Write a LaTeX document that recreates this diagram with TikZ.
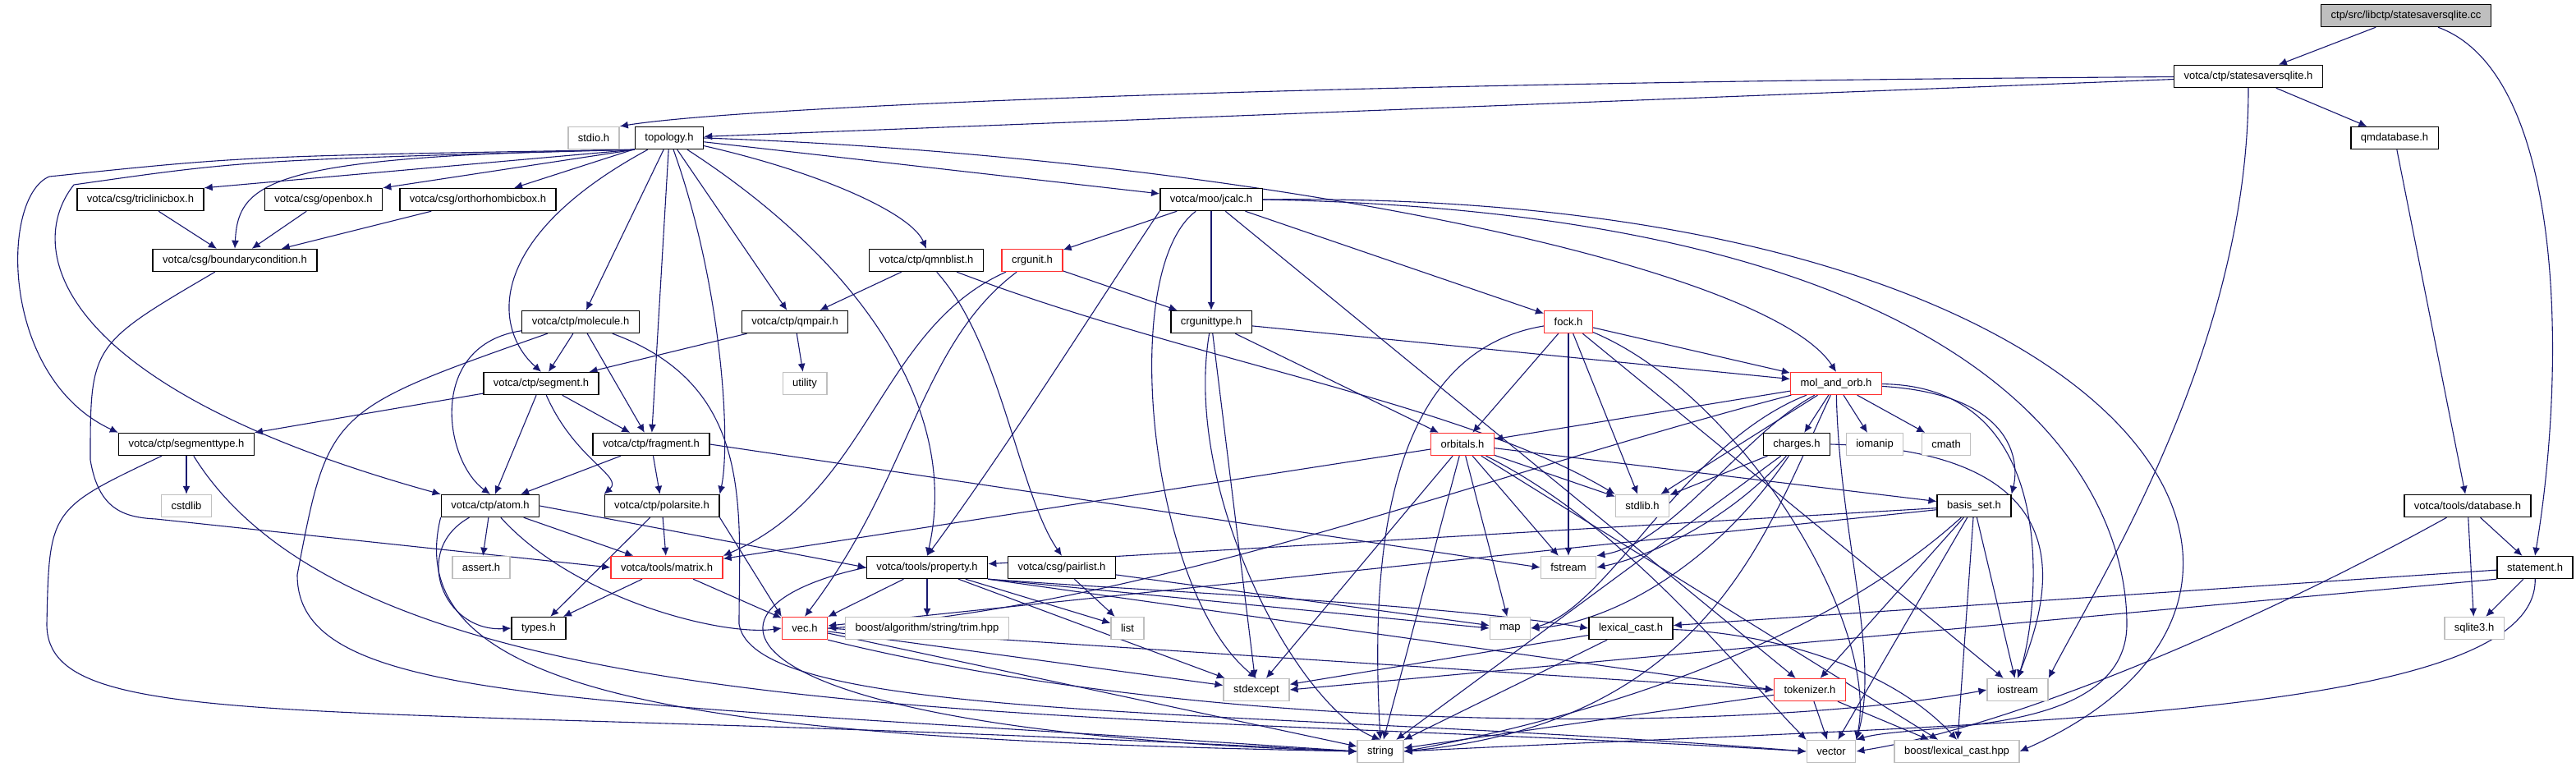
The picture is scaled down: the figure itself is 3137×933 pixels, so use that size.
\documentclass[tikz,border=0pt]{standalone}
\usepackage{fontspec}
\setsansfont{Liberation Sans}
\usetikzlibrary{arrows.meta,backgrounds}
\definecolor{edgeblue}{HTML}{191970}
\definecolor{sysgray}{HTML}{BFBFBF}
\definecolor{truncred}{HTML}{FF3030}
\definecolor{rootgray}{HTML}{BFBFBF}
\tikzset{
  font=\sffamily\fontsize{6.5}{7.5}\selectfont,
  dep/.style={
    -{Latex[length=5pt,width=4.5pt]},
    draw=edgeblue,
    line width=0.55pt
  },
  file/.style={
    rectangle,
    draw=black,
    line width=0.7pt,
    fill=white,
    minimum height=13.5pt,
    inner xsep=6pt,
    inner ysep=0pt
  },
  sys_file/.style={file, draw=sysgray},
  trunc_file/.style={file, draw=truncred},
  root_file/.style={file, fill=rootgray}
}
\begin{document}
\begin{tikzpicture}[x=0.5pt, y=-0.5pt]
  \useasboundingbox (0,0) rectangle (3137,933);

  \node[root_file] (cc) at (2930,19) {ctp/src/libctp/statesaversqlite.cc};
  \node[file] (ssh) at (2738,93) {votca/ctp/statesaversqlite.h};
  \node[sys_file] (stdio) at (723,168) {stdio.h};
  \node[file] (topo) at (815,168) {topology.h};
  \node[file] (qmdb) at (2916,168) {qmdatabase.h};
  \node[file] (tric) at (171,243) {votca/csg/triclinicbox.h};
  \node[file] (openb) at (394,243) {votca/csg/openbox.h};
  \node[file] (ortho) at (582,243) {votca/csg/orthorhombicbox.h};
  \node[file] (jcalc) at (1475,243) {votca/moo/jcalc.h};
  \node[file] (bcond) at (286,317) {votca/csg/boundarycondition.h};
  \node[file] (qmnb) at (1128,317) {votca/ctp/qmnblist.h};
  \node[trunc_file] (crgu) at (1257,317) {crgunit.h};
  \node[file] (mol) at (707,392) {votca/ctp/molecule.h};
  \node[file] (qmpair) at (968,392) {votca/ctp/qmpair.h};
  \node[file] (crgt) at (1475,392) {crgunittype.h};
  \node[trunc_file] (fock) at (1910,392) {fock.h};
  \node[file] (seg) at (659,467) {votca/ctp/segment.h};
  \node[sys_file] (util) at (980,467) {utility};
  \node[trunc_file] (mao) at (2236,467) {mol\_and\_orb.h};
  \node[file] (segt) at (227,541) {votca/ctp/segmenttype.h};
  \node[file] (frag) at (793,541) {votca/ctp/fragment.h};
  \node[trunc_file] (orb) at (1781,541) {orbitals.h};
  \node[file] (chg) at (2188,541) {charges.h};
  \node[sys_file] (ioman) at (2283,541) {iomanip};
  \node[sys_file] (cmath) at (2370,541) {cmath};
  \node[sys_file] (cstdlib) at (227,616) {cstdlib};
  \node[file] (atom) at (597,616) {votca/ctp/atom.h};
  \node[file] (polar) at (806,616) {votca/ctp/polarsite.h};
  \node[sys_file] (stdlib) at (2000,616) {stdlib.h};
  \node[file] (basis) at (2404,616) {basis\_set.h};
  \node[file] (db) at (3005,616) {votca/tools/database.h};
  \node[sys_file] (assert) at (586,691) {assert.h};
  \node[trunc_file] (matrix) at (812,691) {votca/tools/matrix.h};
  \node[file] (prop) at (1129,691) {votca/tools/property.h};
  \node[file] (pair) at (1293,691) {votca/csg/pairlist.h};
  \node[sys_file] (fstream) at (1910,691) {fstream};
  \node[file] (stmt) at (3087,691) {statement.h};
  \node[file] (types) at (656,765) {types.h};
  \node[trunc_file] (vec) at (980,765) {vec.h};
  \node[sys_file] (trim) at (1129,765) {boost/algorithm/string/trim.hpp};
  \node[sys_file] (list) at (1373,765) {list};
  \node[sys_file] (map) at (1839,765) {map};
  \node[file] (lexc) at (1986,765) {lexical\_cast.h};
  \node[sys_file] (sqlite) at (3013,765) {sqlite3.h};
  \node[sys_file] (stdexc) at (1530,840) {stdexcept};
  \node[trunc_file] (tok) at (2204,840) {tokenizer.h};
  \node[sys_file] (iostr) at (2457,840) {iostream};
  \node[sys_file] (string) at (1681,915) {string};
  \node[sys_file] (vector) at (2230,915) {vector};
  \node[sys_file] (blc) at (2383,915) {boost/lexical\_cast.hpp};

  \begin{scope}[on background layer]
  \draw[dep] (cc) -- (ssh);
  \draw[dep] (cc) .. controls (3125,90) and (3125,450) .. (stmt.north);
  \draw[dep] (ssh) .. controls (1600,100) and (900,130) .. (stdio.north east);
  \draw[dep] (ssh) -- (topo);
  \draw[dep] (ssh) -- (qmdb);
  \draw[dep] (ssh) .. controls (2738,420) and (2560,700) .. (iostr.north east);
  \draw[dep] (qmdb) -- (db);
  \draw[dep] (db) -- (stmt);
  \draw[dep] (db) -- (sqlite);
  \draw[dep] (db) .. controls (2800,730) and (2480,880) .. (vector.east);
  \draw[dep] (stmt) -- (sqlite);
  \draw[dep] (stmt) -- (lexc);
  \draw[dep] (stmt.south west) -- (stdexc.east);
  \draw[dep] (stmt) .. controls (3090,880) and (2400,880) .. (string.east);

  \draw[dep] (topo.south west) -- (tric.north east);
  \draw[dep] (topo.south west) -- (openb.north east);
  \draw[dep] (topo) -- (ortho);
  \draw[dep] (topo.south west) .. controls (330,190) and (290,220) .. (bcond.north);
  \draw[dep] (topo.south west) .. controls (300,190) .. (60,215) .. controls (0,240) and (0,460) .. (segt.north west);
  \draw[dep] (topo.south west) .. controls (300,195) .. (90,225) .. controls (30,300) and (60,470) .. (atom.north west);
  \draw[dep] (topo) -- (mol);
  \draw[dep] (topo) .. controls (590,290) and (600,400) .. (seg.north);
  \draw[dep] (topo) -- (frag);
  \draw[dep] (topo) .. controls (880,350) and (890,540) .. (polar.north east);
  \draw[dep] (topo) -- (qmpair);
  \draw[dep] (topo) .. controls (1050,320) and (1170,500) .. (prop.north);
  \draw[dep] (topo) .. controls (1000,210) and (1110,260) .. (qmnb.north);
  \draw[dep] (topo) -- (jcalc);
  \draw[dep] (topo.east) .. controls (1500,190) and (2150,320) .. (mao.north);

  \draw[dep] (tric) -- (bcond);
  \draw[dep] (openb) -- (bcond);
  \draw[dep] (ortho) -- (bcond);
  \draw[dep] (bcond) .. controls (110,420) .. (110,560) .. controls (120,620) and (150,630) .. (190,632) -- (matrix.west);

  \draw[dep] (jcalc) -- (crgu);
  \draw[dep] (jcalc) -- (crgt);
  \draw[dep] (jcalc.south west) .. controls (1330,380) and (1230,540) .. (prop.north);
  \draw[dep] (jcalc) .. controls (1360,330) and (1400,720) .. (stdexc.north);
  \draw[dep] (jcalc) -- (fock);
  \draw[dep] (jcalc) -- (tok);
  \draw[dep] (jcalc.east) .. controls (2600,230) and (2900,720) .. (blc.east);
  \draw[dep] (jcalc.east) .. controls (2450,260) and (2590,600) .. (2590,760) .. controls (2590,900) and (2330,880) .. (vector.north east);

  \draw[dep] (qmnb) -- (qmpair);
  \draw[dep] (qmnb) .. controls (1220,420) and (1240,600) .. (pair.north);
  \draw[dep] (qmnb) .. controls (1450,440) and (1780,490) .. (stdlib.north west);
  \draw[dep] (crgu) -- (crgt);
  \draw[dep] (crgu) .. controls (1070,400) and (1060,600) .. (matrix.north east);
  \draw[dep] (crgu) .. controls (1120,420) and (1110,580) .. (vec.north);
  \draw[dep] (qmpair) -- (util);
  \draw[dep] (qmpair) -- (seg);

  \draw[dep] (crgt) -- (mao);
  \draw[dep] (crgt) -- (orb);
  \draw[dep] (crgt) -- (stdexc);
  \draw[dep] (crgt) .. controls (1440,600) and (1580,860) .. (string.north);

  \draw[dep] (fock) -- (mao);
  \draw[dep] (fock) -- (orb);
  \draw[dep] (fock) -- (stdlib);
  \draw[dep] (fock) -- (fstream);
  \draw[dep] (fock) .. controls (1680,430) and (1670,700) .. (string.north);
  \draw[dep] (fock) -- (iostr);
  \draw[dep] (fock) .. controls (2120,480) and (2290,760) .. (vector.north east);

  \draw[dep] (mol) -- (seg);
  \draw[dep] (mol) .. controls (520,420) and (540,560) .. (atom.north);
  \draw[dep] (mol) -- (frag);
  \draw[dep] (mol) .. controls (400,500) .. (362,700) .. controls (362,860) and (700,850) .. (string.west);
  \draw[dep] (mol) .. controls (920,470) and (900,620) .. (900,760) .. controls (920,880) and (1500,860) .. (vector.west);

  \draw[dep] (seg) -- (segt);
  \draw[dep] (seg) -- (atom);
  \draw[dep] (seg) -- (frag);
  \draw[dep] (seg) .. controls (700,560) and (760,580) .. (polar.north west);

  \draw[dep] (mao) -- (orb);
  \draw[dep] (mao) -- (chg);
  \draw[dep] (mao) -- (ioman);
  \draw[dep] (mao) -- (cmath);
  \draw[dep] (mao) .. controls (2450,480) and (2460,560) .. (basis.north east);
  \draw[dep] (mao) -- (stdlib);
  \draw[dep] (mao) .. controls (2120,530) and (2040,660) .. (fstream.north east);
  \draw[dep] (mao) .. controls (2050,540) and (1960,740) .. (map.east);
  \draw[dep] (mao) .. controls (1800,580) and (1400,740) .. (vec.east);
  \draw[dep] (mao) .. controls (2150,650) and (2080,880) .. (string.east);
  \draw[dep] (mao) .. controls (2240,650) and (2290,800) .. (vector.north east);
  \draw[dep] (mao) .. controls (2520,470) and (2480,760) .. (iostr.north);

  \draw[dep] (segt) -- (cstdlib);
  \draw[dep] (segt) .. controls (60,620) .. (57,760) .. controls (57,900) and (400,850) .. (string.west);
  \draw[dep] (segt) .. controls (450,900) and (1300,860) .. (vector.west);

  \draw[dep] (frag) -- (atom);
  \draw[dep] (frag) -- (polar);
  \draw[dep] (frag.east) -- (fstream.west);

  \draw[dep] (orb) -- (matrix);
  \draw[dep] (orb) -- (stdlib);
  \draw[dep] (orb) -- (fstream);
  \draw[dep] (orb) -- (string);
  \draw[dep] (orb) .. controls (1980,640) and (2120,820) .. (vector.north west);
  \draw[dep] (orb) -- (map);
  \draw[dep] (orb) -- (stdexc);
  \draw[dep] (orb) -- (basis);
  \draw[dep] (orb) -- (blc);

  \draw[dep] (chg) -- (stdlib);
  \draw[dep] (chg) .. controls (2100,640) and (2000,680) .. (fstream.east);
  \draw[dep] (chg) -- (string);
  \draw[dep] (chg) .. controls (2080,700) and (1950,760) .. (map.east);
  \draw[dep] (chg.east) .. controls (2560,550) and (2490,740) .. (iostr.north);

  \draw[dep] (atom) -- (assert);
  \draw[dep] (atom) -- (matrix);
  \draw[dep] (atom) .. controls (500,670) and (540,770) .. (types.west);
  \draw[dep] (atom) .. controls (700,730) and (880,775) .. (vec.west);
  \draw[dep] (atom.east) -- (prop.west);
  \draw[dep] (atom.south west) .. controls (480,860) and (900,900) .. (string.west);

  \draw[dep] (polar) -- (matrix);
  \draw[dep] (polar.south east) -- (vec.north west);
  \draw[dep] (polar) -- (types);

  \draw[dep] (basis) -- (prop);
  \draw[dep] (basis) -- (vec);
  \draw[dep] (basis) -- (tok);
  \draw[dep] (basis) .. controls (2200,800) and (1900,880) .. (string.east);
  \draw[dep] (basis) -- (vector);
  \draw[dep] (basis) -- (iostr);
  \draw[dep] (basis) -- (blc);

  \draw[dep] (matrix) -- (types);
  \draw[dep] (matrix) -- (vec);

  \draw[dep] (prop) -- (vec);
  \draw[dep] (prop) -- (trim);
  \draw[dep] (prop) -- (list);
  \draw[dep] (prop.south east) -- (map.west);
  \draw[dep] (prop.south east) .. controls (1400,720) and (1750,735) .. (lexc.west);
  \draw[dep] (prop) -- (stdexc);
  \draw[dep] (prop.south east) -- (tok.west);
  \draw[dep] (prop.west) .. controls (820,740) and (860,890) .. (string.west);

  \draw[dep] (pair) -- (list);
  \draw[dep] (pair) -- (map);

  \draw[dep] (lexc) .. controls (2150,770) and (2300,810) .. (blc.north);
  \draw[dep] (lexc) -- (stdexc);
  \draw[dep] (lexc) -- (string);

  \draw[dep] (vec) -- (stdexc);
  \draw[dep] (vec.east) -- (tok.west);
  \draw[dep] (vec) -- (string);
  \draw[dep] (vec.south east) .. controls (1500,900) and (2150,890) .. (iostr.west);

  \draw[dep] (tok) -- (string);
  \draw[dep] (tok) -- (vector);
  \draw[dep] (tok) -- (blc);
  \end{scope}
\end{tikzpicture}
\end{document}
